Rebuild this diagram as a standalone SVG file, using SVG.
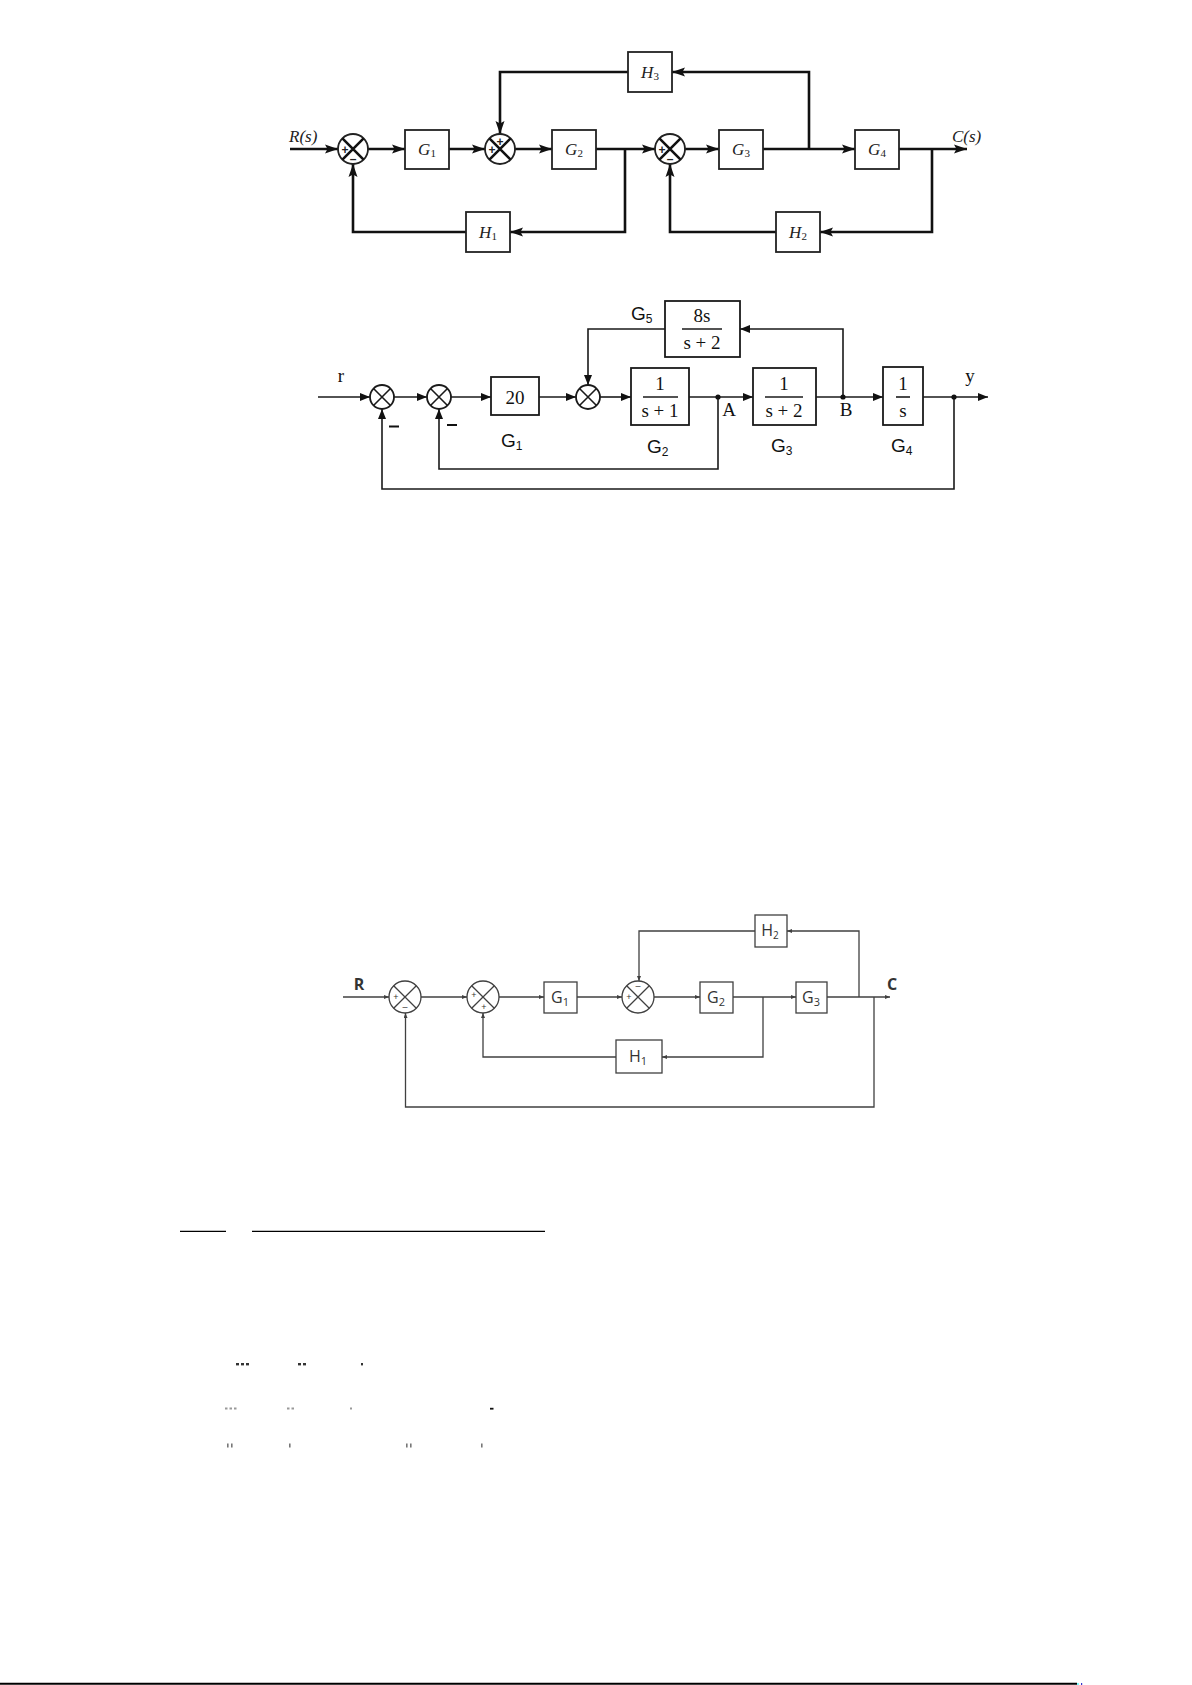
<svg xmlns="http://www.w3.org/2000/svg" width="1192" height="1685" viewBox="0 0 1192 1685">
<style>
.w1{stroke:#111;stroke-width:2.6;fill:none}
.b1{stroke:#222;stroke-width:1.8;fill:#fff}
.w2{stroke:#1a1a1a;stroke-width:1.6;fill:none}
.b2{stroke:#1a1a1a;stroke-width:1.8;fill:#fff}
.w3{stroke:#404040;stroke-width:1.3;fill:none}
.b3{stroke:#404040;stroke-width:1.3;fill:#fff}
.t1{font-family:"Liberation Serif","Times New Roman",serif;font-style:italic;font-size:17px;fill:#222}
.s1{font-family:"Liberation Sans",Arial,sans-serif;font-size:12px;fill:#222;font-weight:bold}
.t2{font-family:"Liberation Serif","Times New Roman",serif;font-size:19px;fill:#111}
.g2{font-family:"Liberation Sans",Arial,sans-serif;font-size:19px;fill:#111}
.t3{font-family:"Open Sans","Liberation Sans",sans-serif;font-size:16px;fill:#333}
.s3{font-family:"Liberation Sans",sans-serif;font-size:9px;fill:#333}
</style>
<defs>
<marker id="a1" markerUnits="userSpaceOnUse" markerWidth="14" markerHeight="10" refX="13" refY="5" orient="auto"><path d="M0,0.5 L13,5 L0,9.5 L2.5,5 z" fill="#111"/></marker>
<marker id="a2" markerUnits="userSpaceOnUse" markerWidth="11" markerHeight="9" refX="10" refY="4" orient="auto"><path d="M0,0 L10,4 L0,8 z" fill="#111"/></marker>
<marker id="a3" markerUnits="userSpaceOnUse" markerWidth="6" markerHeight="5" refX="5" refY="2" orient="auto"><path d="M0,0 L5,2 L0,4 z" fill="#404040"/></marker>
</defs>
<rect width="1192" height="1685" fill="#fff"/>

<!-- ===== Diagram 1 ===== -->
<g id="d1-connectors" class="w1">
<path d="M290,149 H338" marker-end="url(#a1)"/>
<path d="M368,149 H405" marker-end="url(#a1)"/>
<path d="M449,149 H485" marker-end="url(#a1)"/>
<path d="M515,149 H552" marker-end="url(#a1)"/>
<path d="M596,149 H655" marker-end="url(#a1)"/>
<path d="M625,149 V232 H510" marker-end="url(#a1)"/>
<path d="M466,232 H353 V164" marker-end="url(#a1)"/>
<path d="M685,149 H719" marker-end="url(#a1)"/>
<path d="M763,149 H855" marker-end="url(#a1)"/>
<path d="M809,149 V72 H672" marker-end="url(#a1)"/>
<path d="M628,72 H500 V134" marker-end="url(#a1)"/>
<path d="M899,149 H967" marker-end="url(#a1)"/>
<path d="M932,149 V232 H820" marker-end="url(#a1)"/>
<path d="M776,232 H670 V164" marker-end="url(#a1)"/>
</g>
<g id="d1-sum1"><circle cx="353" cy="149" r="15" class="b1" stroke-width="2.2"/><path d="M342.4,138.4 L363.6,159.6 M363.6,138.4 L342.4,159.6" class="w1" stroke-width="1.8"/><text x="345" y="153.5" class="s1" text-anchor="middle" font-weight="normal">+</text><text x="353" y="163" class="s1" text-anchor="middle" font-size="15">–</text></g>
<g id="d1-sum2"><circle cx="500" cy="149" r="15" class="b1" stroke-width="2.2"/><path d="M489.4,138.4 L510.6,159.6 M510.6,138.4 L489.4,159.6" class="w1" stroke-width="1.8"/><text x="500" y="145.5" class="s1" text-anchor="middle" font-weight="normal">+</text><text x="492" y="154" class="s1" text-anchor="middle" font-weight="normal">+</text></g>
<g id="d1-sum3"><circle cx="670" cy="149" r="15" class="b1" stroke-width="2.2"/><path d="M659.4,138.4 L680.6,159.6 M680.6,138.4 L659.4,159.6" class="w1" stroke-width="1.8"/><text x="662" y="153.5" class="s1" text-anchor="middle" font-weight="normal">+</text><text x="670" y="163" class="s1" text-anchor="middle" font-size="15">–</text></g>
<g id="d1-G1"><rect x="405" y="130" width="44" height="39" class="b1"/><text x="427" y="155" class="t1" text-anchor="middle">G<tspan font-style="normal" font-size="11" dy="2">1</tspan></text></g>
<g id="d1-G2"><rect x="552" y="130" width="44" height="39" class="b1"/><text x="574" y="155" class="t1" text-anchor="middle">G<tspan font-style="normal" font-size="11" dy="2">2</tspan></text></g>
<g id="d1-G3"><rect x="719" y="130" width="44" height="39" class="b1"/><text x="741" y="155" class="t1" text-anchor="middle">G<tspan font-style="normal" font-size="11" dy="2">3</tspan></text></g>
<g id="d1-G4"><rect x="855" y="130" width="44" height="39" class="b1"/><text x="877" y="155" class="t1" text-anchor="middle">G<tspan font-style="normal" font-size="11" dy="2">4</tspan></text></g>
<g id="d1-H1"><rect x="466" y="212" width="44" height="40" class="b1"/><text x="488" y="238" class="t1" text-anchor="middle">H<tspan font-style="normal" font-size="11" dy="2">1</tspan></text></g>
<g id="d1-H2"><rect x="776" y="212" width="44" height="40" class="b1"/><text x="798" y="238" class="t1" text-anchor="middle">H<tspan font-style="normal" font-size="11" dy="2">2</tspan></text></g>
<g id="d1-H3"><rect x="628" y="52" width="44" height="40" class="b1"/><text x="650" y="78" class="t1" text-anchor="middle">H<tspan font-style="normal" font-size="11" dy="2">3</tspan></text></g>
<g id="d1-labels"><text x="289" y="142" class="t1" font-size="15">R(s)</text><text x="952" y="142" class="t1" font-size="15">C(s)</text></g>

<!-- ===== Diagram 2 ===== -->
<g id="d2-connectors" class="w2">
<path d="M318,397 H370" marker-end="url(#a2)"/>
<path d="M394,397 H427" marker-end="url(#a2)"/>
<path d="M451,397 H491" marker-end="url(#a2)"/>
<path d="M539,397 H576" marker-end="url(#a2)"/>
<path d="M600,397 H631" marker-end="url(#a2)"/>
<path d="M689,397 H753" marker-end="url(#a2)"/>
<path d="M816,397 H883" marker-end="url(#a2)"/>
<path d="M923,397 H988" marker-end="url(#a2)"/>
<path d="M843,397 V329 H740" marker-end="url(#a2)"/>
<path d="M665,329 H588 V385" marker-end="url(#a2)"/>
<path d="M718,397 V469 H439 V409" marker-end="url(#a2)"/>
<path d="M954,397 V489 H382 V409" marker-end="url(#a2)"/>
<circle cx="718" cy="397" r="2.6" fill="#111" stroke="none"/>
<circle cx="843" cy="397" r="2.6" fill="#111" stroke="none"/>
<circle cx="954" cy="397" r="2.6" fill="#111" stroke="none"/>
</g>
<g id="d2-sumA"><circle cx="382" cy="397" r="12" class="b2"/><path d="M373.5,388.5 L390.5,405.5 M390.5,388.5 L373.5,405.5" class="w2"/></g>
<g id="d2-sumB"><circle cx="439" cy="397" r="12" class="b2"/><path d="M430.5,388.5 L447.5,405.5 M447.5,388.5 L430.5,405.5" class="w2"/></g>
<g id="d2-sumC"><circle cx="588" cy="397" r="12" class="b2"/><path d="M579.5,388.5 L596.5,405.5 M596.5,388.5 L579.5,405.5" class="w2"/></g>
<g id="d2-G1"><rect x="491" y="377" width="48" height="38" class="b2"/><text x="515" y="403.5" font-family="Liberation Serif, Times New Roman, serif" font-size="19" fill="#111" text-anchor="middle">20</text></g>
<g id="d2-G2" font-family="Liberation Serif, Times New Roman, serif" font-size="19" fill="#111" text-anchor="middle"><rect x="631" y="368" width="58" height="57" class="b2"/><text x="660" y="390">1</text><path d="M643,397 H678" class="w2" stroke-width="1.3"/><text x="660" y="417">s + 1</text></g>
<g id="d2-G3" font-family="Liberation Serif, Times New Roman, serif" font-size="19" fill="#111" text-anchor="middle"><rect x="753" y="368" width="63" height="57" class="b2"/><text x="784" y="390">1</text><path d="M765,397 H803" class="w2" stroke-width="1.3"/><text x="784" y="417">s + 2</text></g>
<g id="d2-G4" font-family="Liberation Serif, Times New Roman, serif" font-size="19" fill="#111" text-anchor="middle"><rect x="883" y="367" width="40" height="58" class="b2"/><text x="903" y="390">1</text><path d="M896,397 H910" class="w2" stroke-width="1.3"/><text x="903" y="417">s</text></g>
<g id="d2-G5" font-family="Liberation Serif, Times New Roman, serif" font-size="19" fill="#111" text-anchor="middle"><rect x="665" y="301" width="75" height="56" class="b2"/><text x="702" y="322">8s</text><path d="M682,329 H722" class="w2" stroke-width="1.3"/><text x="702" y="349">s + 2</text></g>
<g id="d2-labels">
<text x="341" y="382" class="t2" text-anchor="middle">r</text>
<text x="970" y="382" class="t2" text-anchor="middle">y</text>
<text x="729" y="416" class="t2" text-anchor="middle">A</text>
<text x="846" y="416" class="t2" text-anchor="middle">B</text>
<text x="631" y="320" class="g2">G<tspan font-size="12" dy="3">5</tspan></text>
<text x="501" y="447" class="g2">G<tspan font-size="12" dy="3">1</tspan></text>
<text x="647" y="453" class="g2">G<tspan font-size="12" dy="3">2</tspan></text>
<text x="771" y="452" class="g2">G<tspan font-size="12" dy="3">3</tspan></text>
<text x="891" y="452" class="g2">G<tspan font-size="12" dy="3">4</tspan></text>
<path d="M389,426.5 H399 M447,425 H457" stroke="#111" stroke-width="2"/>
</g>

<!-- ===== Diagram 3 ===== -->
<g id="d3-connectors" class="w3">
<path d="M343,997 H389" marker-end="url(#a3)"/>
<path d="M421,997 H467" marker-end="url(#a3)"/>
<path d="M499,997 H544" marker-end="url(#a3)"/>
<path d="M577,997 H622" marker-end="url(#a3)"/>
<path d="M654,997 H700" marker-end="url(#a3)"/>
<path d="M733,997 H796" marker-end="url(#a3)"/>
<path d="M763,997 V1057 H662" marker-end="url(#a3)"/>
<path d="M616,1057 H483 V1013" marker-end="url(#a3)"/>
<path d="M827,997 H890" marker-end="url(#a3)"/>
<path d="M859,997 V931 H787" marker-end="url(#a3)"/>
<path d="M755,931 H639 V981" marker-end="url(#a3)"/>
<path d="M874,997 V1107 H405.5 V1013" marker-end="url(#a3)"/>
</g>
<g id="d3-sum1"><circle cx="405" cy="997" r="16" class="b3"/><path d="M393.7,985.7 L416.3,1008.3 M416.3,985.7 L393.7,1008.3" class="w3"/><text x="396" y="1000" class="s3" text-anchor="middle">+</text><text x="405" y="1010" class="s3" text-anchor="middle" font-size="10">–</text></g>
<g id="d3-sum2"><circle cx="483" cy="997" r="16" class="b3"/><path d="M471.7,985.7 L494.3,1008.3 M494.3,985.7 L471.7,1008.3" class="w3"/><text x="474" y="998" class="s3" text-anchor="middle">+</text><text x="484" y="1010" class="s3" text-anchor="middle">+</text></g>
<g id="d3-sum3"><circle cx="638" cy="997" r="16" class="b3"/><path d="M626.7,985.7 L649.3,1008.3 M649.3,985.7 L626.7,1008.3" class="w3"/><text x="638" y="989" class="s3" text-anchor="middle" font-size="10">–</text><text x="629" y="1000" class="s3" text-anchor="middle">+</text></g>
<g id="d3-G1"><rect x="544" y="982" width="33" height="31" class="b3"/><text x="560" y="1003" class="t3" text-anchor="middle">G<tspan font-size="11" dy="3">1</tspan></text></g>
<g id="d3-G2"><rect x="700" y="982" width="33" height="31" class="b3"/><text x="716" y="1003" class="t3" text-anchor="middle">G<tspan font-size="11" dy="3">2</tspan></text></g>
<g id="d3-G3"><rect x="796" y="982" width="31" height="31" class="b3"/><text x="811" y="1003" class="t3" text-anchor="middle">G<tspan font-size="11" dy="3">3</tspan></text></g>
<g id="d3-H1"><rect x="616" y="1040" width="46" height="33" class="b3"/><text x="638" y="1062" class="t3" text-anchor="middle">H<tspan font-size="11" dy="3">1</tspan></text></g>
<g id="d3-H2"><rect x="755" y="915" width="32" height="32" class="b3"/><text x="770" y="936" class="t3" font-size="14" text-anchor="middle">H<tspan font-size="10" dy="3">2</tspan></text></g>
<g id="d3-labels"><text x="359" y="990" class="t3" font-weight="bold" font-size="15" text-anchor="middle" fill="#222">R</text><text x="892" y="990" class="t3" font-weight="bold" font-size="15" text-anchor="middle" fill="#222">C</text></g>

<!-- ===== Bottom residue ===== -->
<g id="rules" stroke="#000" stroke-width="1.3">
<path d="M180,1231.3 H226 M252,1231.3 H545"/>
<path d="M0,1683.8 H1077" stroke-width="2"/>
</g>
<g id="marks" fill="#333">
<rect x="236" y="1363" width="3" height="2.4"/><rect x="241" y="1363" width="3" height="2.4"/><rect x="246" y="1363" width="3" height="2.4"/>
<rect x="298" y="1363" width="3" height="2.4"/><rect x="303" y="1363" width="3" height="2.4"/>
<rect x="361" y="1363" width="2" height="2.4"/>
<rect x="225" y="1407.5" width="2.5" height="2" fill="#999"/><rect x="229.5" y="1407.5" width="2.5" height="2" fill="#999"/><rect x="234" y="1407.5" width="2.5" height="2" fill="#999"/>
<rect x="287" y="1407.5" width="2.5" height="2" fill="#999"/><rect x="291.5" y="1407.5" width="2.5" height="2" fill="#999"/>
<rect x="350" y="1407.5" width="2" height="2" fill="#999"/>
<rect x="490" y="1407.8" width="3.5" height="1.8" fill="#111"/>
<rect x="227" y="1443.5" width="1.6" height="4" fill="#777"/><rect x="231" y="1443.5" width="1.6" height="4" fill="#777"/>
<rect x="289" y="1443.5" width="1.6" height="4" fill="#777"/>
<rect x="406" y="1443.5" width="1.6" height="4" fill="#777"/><rect x="410" y="1443.5" width="1.6" height="4" fill="#777"/>
<rect x="481" y="1443.5" width="1.6" height="4" fill="#777"/>
<rect x="1077.5" y="1683" width="1" height="2" fill="#0ff"/><rect x="1081" y="1683" width="1.2" height="2" fill="#33c"/>
</g>
</svg>
